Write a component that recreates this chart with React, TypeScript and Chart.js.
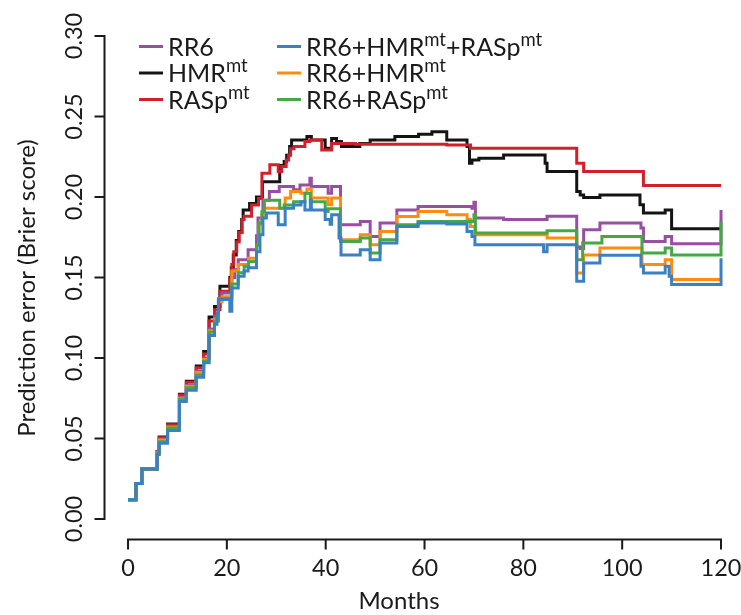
import { useEffect, useRef } from "react";
import { Chart, registerables } from "chart.js";

Chart.register(...registerables);

const FONT = "Lato, 'Open Sans', sans-serif";
const TEXT_COLOR = "#1a1a1a";

const xTicks = [0, 20, 40, 60, 80, 100, 120];
const xTickLabels = ["0", "20", "40", "60", "80", "100", "120"];
const yTicks = [0, 0.05, 0.1, 0.15, 0.2, 0.25, 0.3];
const yTickLabels = ["0.00", "0.05", "0.10", "0.15", "0.20", "0.25", "0.30"];
const xTitle = "Months";
const yTitle = "Prediction error (Brier score)";

const seriesNames = [
  "RR6",
  "HMR^{mt}",
  "RASp^{mt}",
  "RR6+HMR^{mt}+RASp^{mt}",
  "RR6+HMR^{mt}",
  "RR6+RASp^{mt}",
];
const seriesColors = ["#984EA3", "#141414", "#D2202A", "#3A80C4", "#FF8C10", "#45A845"];
const seriesOrder = [3, 5, 4, 0, 2, 1];

// RR6 (purple)
const rr6Months = [0, 1.6, 2.8, 5.9, 6.3, 8.0, 10.4, 11.8, 13.8, 15.3, 16.4, 17.5, 18.3, 19.0, 21.0, 21.6, 22.3, 24.3, 26.0, 26.3, 27.3, 28.6, 30.6, 33.5, 34.8, 36.8, 37.1, 40.5, 41.2, 43.0, 47.0, 49.0, 51.0, 54.4, 58.7, 69.6, 70.0, 70.3, 76.0, 84.8, 90.8, 91.5, 92.2, 95.5, 103.8, 104.3, 108.7, 110.0, 120.0];
const rr6Values = [0.012, 0.022, 0.031, 0.041, 0.0495, 0.0575, 0.0755, 0.083, 0.092, 0.100, 0.118, 0.126, 0.136, 0.1404, 0.150, 0.155, 0.161, 0.1673, 0.176, 0.187, 0.198, 0.2034, 0.2065, 0.2045, 0.2075, 0.2117, 0.2065, 0.2024, 0.2065, 0.1828, 0.1848, 0.1755, 0.1838, 0.192, 0.1941, 0.193, 0.1968, 0.1869, 0.186, 0.188, 0.169, 0.168, 0.1797, 0.1838, 0.1807, 0.1724, 0.1755, 0.171, 0.192];

// HMR^mt (black)
const hmrMonths = [0, 1.6, 2.8, 5.9, 6.3, 8.0, 10.4, 11.8, 13.8, 15.3, 16.4, 17.5, 18.6, 20.6, 20.9, 21.3, 21.9, 22.4, 23.0, 23.3, 24.6, 26.0, 27.2, 30.7, 31.6, 32.1, 32.7, 33.1, 36.2, 37.1, 39.9, 41.2, 42.2, 43.2, 46.9, 49.0, 54.0, 58.8, 61.5, 64.5, 68.6, 69.1, 69.6, 71.0, 76.0, 84.4, 84.8, 90.8, 91.5, 92.2, 95.5, 103.6, 104.3, 108.7, 110.0, 120.0];
const hmrValues = [0.012, 0.022, 0.031, 0.042, 0.051, 0.059, 0.0775, 0.0855, 0.095, 0.104, 0.1254, 0.132, 0.1446, 0.150, 0.156, 0.164, 0.173, 0.1786, 0.186, 0.192, 0.196, 0.200, 0.2095, 0.2195, 0.222, 0.226, 0.2313, 0.2354, 0.2375, 0.2354, 0.2302, 0.2364, 0.2344, 0.2313, 0.2333, 0.2354, 0.2375, 0.2389, 0.2406, 0.2354, 0.2313, 0.2209, 0.223, 0.224, 0.2261, 0.2209, 0.2158, 0.2034, 0.2013, 0.1997, 0.2013, 0.1952, 0.190, 0.192, 0.1803, 0.1803];

// RASp^mt (red)
const raspMonths = [0, 1.6, 2.8, 5.9, 6.3, 8.0, 10.4, 11.8, 13.8, 15.3, 16.4, 17.5, 18.6, 20.6, 21.0, 21.4, 22.0, 22.5, 23.1, 23.5, 25.0, 26.4, 27.1, 28.7, 30.4, 31.1, 32.0, 32.5, 32.9, 33.6, 35.8, 36.8, 39.2, 41.2, 46.0, 64.5, 69.3, 90.8, 92.2, 104.3, 120.0];
const raspValues = [0.012, 0.022, 0.031, 0.042, 0.0505, 0.0585, 0.077, 0.085, 0.094, 0.1025, 0.123, 0.130, 0.1415, 0.149, 0.158, 0.166, 0.172, 0.178, 0.186, 0.188, 0.195, 0.199, 0.2148, 0.220, 0.2158, 0.2189, 0.223, 0.2261, 0.230, 0.2313, 0.2344, 0.2354, 0.2292, 0.2333, 0.2328, 0.2323, 0.2302, 0.221, 0.2158, 0.2071, 0.2071];

// RR6+HMR^mt+RASp^mt (blue)
const allMonths = [0, 1.6, 2.8, 5.9, 6.3, 8.0, 10.4, 11.8, 13.8, 15.3, 16.4, 17.5, 18.0, 18.3, 20.6, 21.0, 22.3, 23.5, 24.3, 26.0, 26.7, 27.3, 28.0, 30.4, 31.8, 33.5, 35.0, 35.8, 36.9, 37.1, 39.9, 40.9, 41.2, 42.7, 43.1, 47.0, 49.0, 51.0, 54.4, 58.7, 64.5, 68.6, 69.6, 70.2, 84.1, 84.8, 90.8, 92.2, 95.5, 103.8, 104.3, 108.7, 109.5, 110.0, 120.0];
const allValues = [0.012, 0.022, 0.031, 0.040, 0.047, 0.055, 0.073, 0.080, 0.088, 0.097, 0.114, 0.121, 0.128, 0.1363, 0.129, 0.1435, 0.1508, 0.154, 0.156, 0.166, 0.1766, 0.187, 0.190, 0.1828, 0.193, 0.195, 0.197, 0.192, 0.198, 0.192, 0.186, 0.183, 0.189, 0.1745, 0.164, 0.1673, 0.161, 0.1714, 0.1817, 0.1838, 0.1832, 0.1786, 0.1755, 0.1704, 0.166, 0.1704, 0.1477, 0.159, 0.1638, 0.157, 0.1528, 0.157, 0.1508, 0.1456, 0.162];

// RR6+HMR^mt (orange)
const rr6HmrMonths = [0, 1.6, 2.8, 5.9, 6.3, 8.0, 10.4, 11.8, 13.8, 15.3, 16.4, 17.5, 18.3, 19.0, 21.0, 22.3, 24.4, 26.0, 26.5, 27.1, 27.6, 31.8, 32.9, 35.0, 36.2, 37.1, 40.5, 41.2, 43.0, 47.0, 49.0, 51.0, 54.4, 58.7, 64.5, 68.6, 69.3, 70.2, 84.8, 90.8, 92.2, 95.5, 104.0, 108.7, 110.0, 120.0];
const rr6HmrValues = [0.012, 0.022, 0.031, 0.041, 0.049, 0.057, 0.075, 0.0825, 0.091, 0.099, 0.117, 0.124, 0.135, 0.138, 0.154, 0.158, 0.162, 0.170, 0.183, 0.189, 0.193, 0.1993, 0.2034, 0.2024, 0.205, 0.1993, 0.1952, 0.1993, 0.1735, 0.1765, 0.1704, 0.1786, 0.1879, 0.191, 0.189, 0.186, 0.1817, 0.1766, 0.1745, 0.1528, 0.164, 0.1683, 0.158, 0.1611, 0.1487, 0.1487];

// RR6+RASp^mt (green)
const rr6RaspMonths = [0, 1.6, 2.8, 5.9, 6.3, 8.0, 10.4, 11.8, 13.8, 15.3, 16.4, 17.5, 18.3, 21.0, 22.3, 23.5, 24.4, 26.0, 26.5, 27.1, 27.6, 30.7, 31.6, 33.5, 35.8, 36.9, 39.9, 40.5, 43.0, 47.0, 49.0, 51.0, 54.4, 58.7, 69.6, 70.0, 70.3, 84.8, 90.8, 92.0, 95.9, 104.0, 108.7, 110.0, 120.0];
const rr6RaspValues = [0.012, 0.022, 0.031, 0.0405, 0.048, 0.0565, 0.0745, 0.0815, 0.0895, 0.098, 0.116, 0.123, 0.137, 0.146, 0.153, 0.157, 0.160, 0.170, 0.184, 0.191, 0.198, 0.193, 0.195, 0.197, 0.2024, 0.197, 0.191, 0.1927, 0.1724, 0.1745, 0.1652, 0.1735, 0.1828, 0.1848, 0.1848, 0.189, 0.1776, 0.179, 0.161, 0.1714, 0.1755, 0.1652, 0.1683, 0.164, 0.1848];

const seriesMonths = [rr6Months, hmrMonths, raspMonths, allMonths, rr6HmrMonths, rr6RaspMonths];
const seriesValues = [rr6Values, hmrValues, raspValues, allValues, rr6HmrValues, rr6RaspValues];

function drawRich(ctx: CanvasRenderingContext2D, text: string, x: number, baseline: number, size: number, supSize: number, supRise: number) {
  const parts = text.split(/(\^\{[^}]*\})/).filter((p) => p.length > 0);
  let cx = x;
  for (const p of parts) {
    if (p.startsWith("^{")) {
      const t = p.slice(2, -1);
      ctx.font = `${supSize}px ${FONT}`;
      ctx.fillText(t, cx, baseline - supRise);
      cx += ctx.measureText(t).width;
    } else {
      ctx.font = `${size}px ${FONT}`;
      ctx.fillText(p, cx, baseline);
      cx += ctx.measureText(p).width;
    }
  }
}

const rAxesPlugin = {
  id: "rAxes",
  afterDraw(chart: any) {
    const ctx: CanvasRenderingContext2D = chart.ctx;
    const xs = chart.scales.x;
    const ys = chart.scales.y;
    const area = chart.chartArea;
    ctx.save();
    ctx.strokeStyle = TEXT_COLOR;
    ctx.fillStyle = TEXT_COLOR;
    ctx.lineWidth = 2;
    ctx.lineCap = "butt";

    // y axis
    const ax = Math.round(area.left) + 0.5;
    const yTop = ys.getPixelForValue(yTicks[yTicks.length - 1]);
    const yBot = ys.getPixelForValue(yTicks[0]);
    ctx.beginPath();
    ctx.moveTo(ax, yTop);
    ctx.lineTo(ax, yBot);
    for (const v of yTicks) {
      const p = ys.getPixelForValue(v);
      ctx.moveTo(ax + 1, p);
      ctx.lineTo(ax - 10, p);
    }
    ctx.stroke();

    // x axis
    const ay = Math.round(area.bottom) + 0.5;
    const xL = xs.getPixelForValue(xTicks[0]);
    const xR = xs.getPixelForValue(xTicks[xTicks.length - 1]);
    ctx.beginPath();
    ctx.moveTo(xL, ay);
    ctx.lineTo(xR, ay);
    for (const v of xTicks) {
      const p = xs.getPixelForValue(v);
      ctx.moveTo(p, ay - 1);
      ctx.lineTo(p, ay + 10);
    }
    ctx.stroke();

    // tick labels
    ctx.font = `23.5px ${FONT}`;
    ctx.textAlign = "center";
    ctx.textBaseline = "middle";
    xTicks.forEach((v, i) => {
      ctx.fillText(xTickLabels[i], xs.getPixelForValue(v), 568);
    });
    yTicks.forEach((v, i) => {
      ctx.save();
      ctx.translate(74, ys.getPixelForValue(v));
      ctx.rotate(-Math.PI / 2);
      ctx.fillText(yTickLabels[i], 0, 0);
      ctx.restore();
    });

    // titles
    ctx.font = `24px ${FONT}`;
    ctx.fillText(xTitle, 399, 601);
    ctx.save();
    ctx.translate(27, 288);
    ctx.rotate(-Math.PI / 2);
    ctx.fillText(yTitle, 0, 0);
    ctx.restore();

    // legend
    const colLineX = [139, 277];
    const colTextX = [168, 306];
    const rowY = [46.5, 73, 99.5];
    ctx.textAlign = "left";
    ctx.textBaseline = "alphabetic";
    seriesNames.forEach((name, i) => {
      const col = Math.floor(i / 3);
      const row = i % 3;
      const y = rowY[row];
      ctx.strokeStyle = seriesColors[i];
      ctx.lineWidth = 3;
      ctx.beginPath();
      ctx.moveTo(colLineX[col], y);
      ctx.lineTo(colLineX[col] + 24, y);
      ctx.stroke();
      ctx.fillStyle = TEXT_COLOR;
      drawRich(ctx, name, colTextX[col], y + 9, 25, 18.5, 10);
    });
    ctx.restore();
  },
};

export default function App() {
  const canvasRef = useRef<HTMLCanvasElement | null>(null);

  useEffect(() => {
    const canvas = canvasRef.current;
    if (!canvas) return;
    const datasets = seriesNames.map((name, i) => ({
      label: name,
      data: seriesMonths[i].map((m, j) => ({ x: m, y: seriesValues[i][j] })),
      borderColor: seriesColors[i],
      backgroundColor: seriesColors[i],
      borderWidth: 3,
      stepped: "before" as const,
      pointRadius: 0,
      pointHoverRadius: 0,
      fill: false,
      tension: 0,
      order: seriesOrder[i],
    }));
    const chart = new Chart(canvas, {
      type: "line",
      data: { datasets },
      options: {
        animation: false,
        responsive: false,
        maintainAspectRatio: false,
        devicePixelRatio: 1,
        layout: { padding: { left: 104.3, right: 10.1, top: 15.7, bottom: 75.7 } },
        scales: {
          x: { type: "linear", min: -4.8, max: 122, display: false },
          y: { type: "linear", min: -0.0126, max: 0.3126, display: false },
        },
        plugins: {
          legend: { display: false },
          tooltip: { enabled: false },
        },
        events: [],
      },
      plugins: [rAxesPlugin],
    });
    return () => chart.destroy();
  }, []);

  return (
    <div style={{ position: "absolute", left: 0, top: 0, width: 741, height: 615, background: "#fff" }}>
      <canvas ref={canvasRef} width={741} height={615} style={{ display: "block", width: 741, height: 615 }} />
    </div>
  );
}
